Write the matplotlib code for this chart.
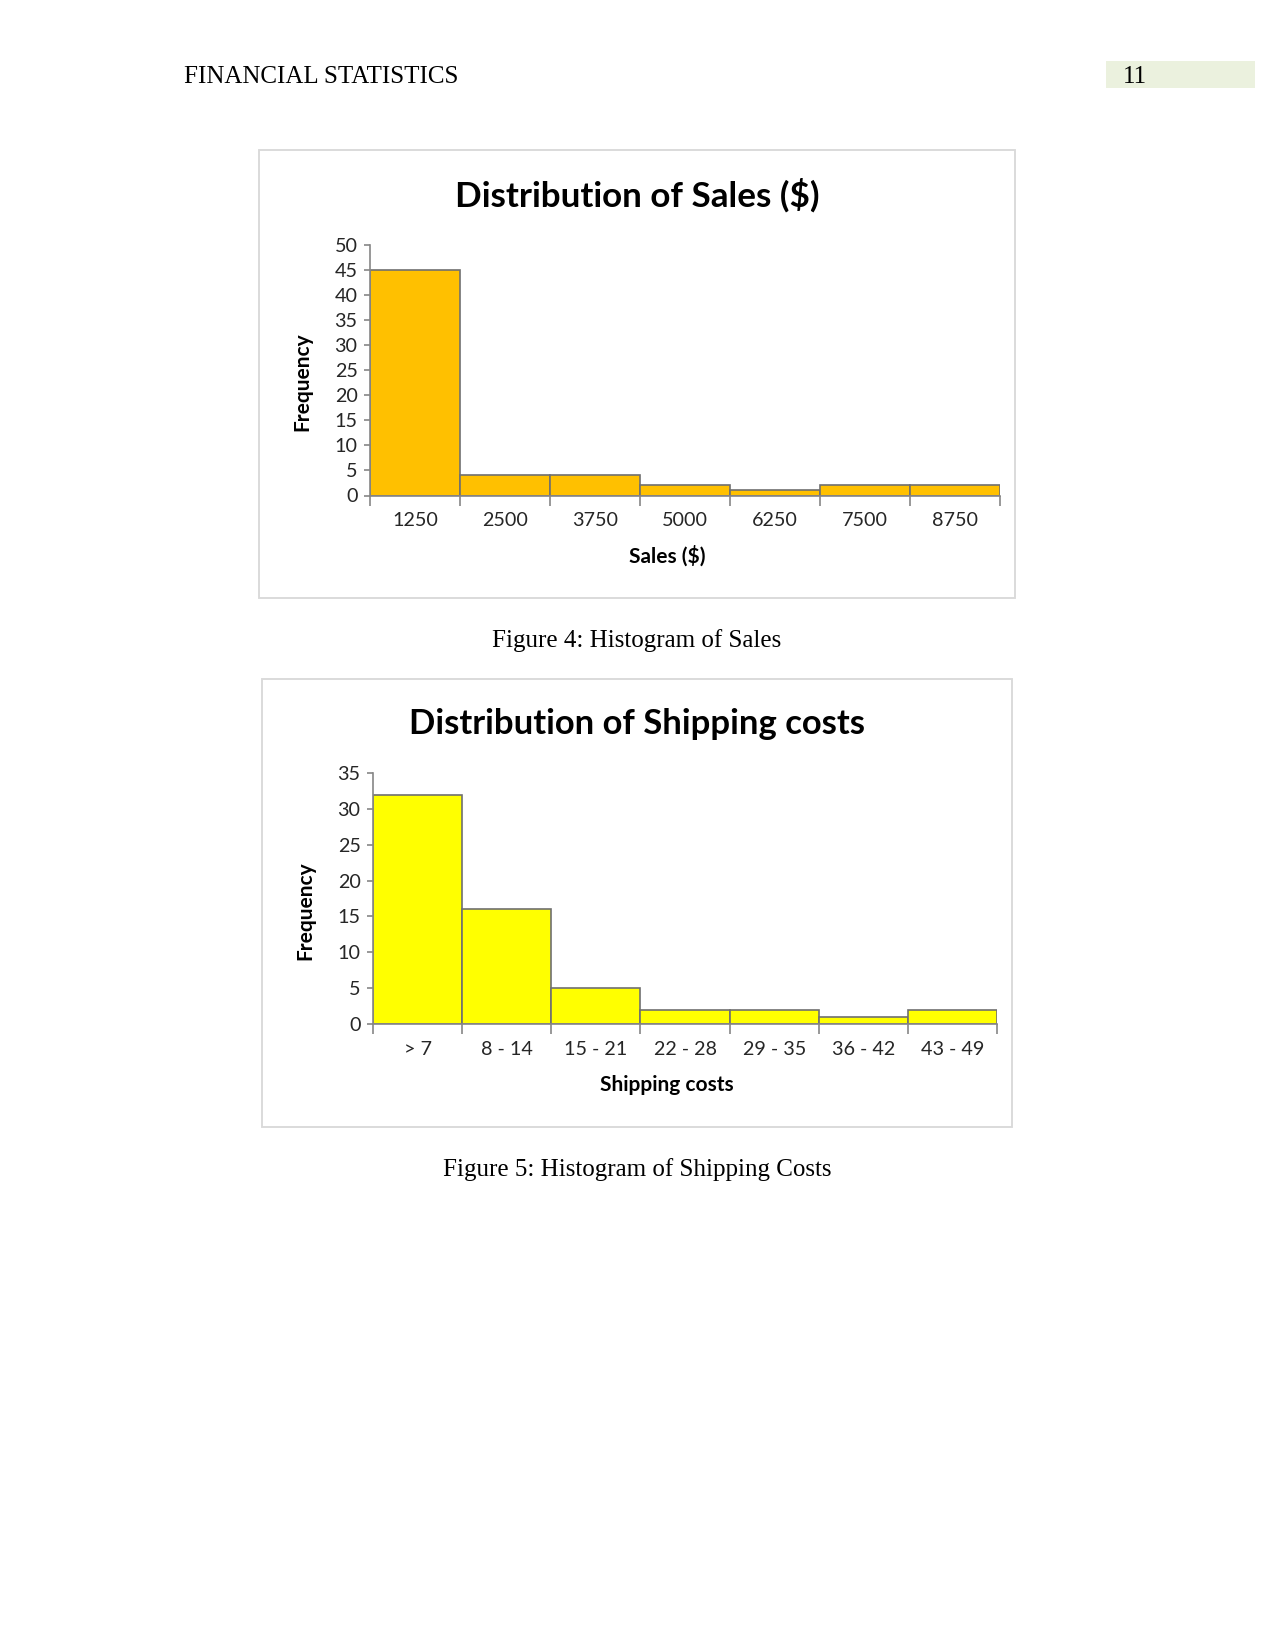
#importing the libraries
import matplotlib.pyplot as plt
from matplotlib.patches import Rectangle

# data
sales_bins = ['1250', '2500', '3750', '5000', '6250', '7500', '8750']
sales_freq = [45, 4, 4, 2, 1, 2, 2]

ship_bins = ['> 7', '8 - 14', '15 - 21', '22 - 28', '29 - 35', '36 - 42', '43 - 49']
ship_freq = [32, 16, 5, 2, 2, 1, 2]

W, H = 1275, 1650


def fx(px):
    return px / W


def fy(py):
    return 1 - py / H


def histogram(fig, rect, bins, freq, color, ymax):
    '''draws one excel style histogram into the given figure rectangle'''
    ax = fig.add_axes(rect)
    pos = list(range(len(freq)))
    ax.bar(pos, freq, width=1, align='edge', color=color,
           edgecolor='#707070', linewidth=0.8)
    ax.set_xlim(0, len(freq))
    ax.set_ylim(0, ymax)
    ax.set_yticks(range(0, ymax + 1, 5))
    ax.set_xticks(range(len(freq) + 1))
    ax.set_xticklabels([])
    ax.set_xticks([p + 0.5 for p in pos], minor=True)
    ax.set_xticklabels(bins, minor=True)
    for s in ['top', 'right']:
        ax.spines[s].set_visible(False)
    for s in ['left', 'bottom']:
        ax.spines[s].set_color('#868686')
        ax.spines[s].set_linewidth(0.8)
    ax.tick_params(axis='y', length=3, width=0.8, color='#868686',
                   labelsize=9.5, labelcolor='#262626', pad=3)
    ax.tick_params(axis='x', which='major', length=5, width=0.8,
                   color='#868686')
    ax.tick_params(axis='x', which='minor', length=0, labelsize=9.5,
                   labelcolor='#262626', pad=8)
    for lab in ax.get_xticklabels(minor=True) + ax.get_yticklabels():
        lab.set_family('Lato')
    return ax


fig = plt.figure(figsize=(8.5, 11), dpi=150)

# page header
fig.text(fx(184), fy(77), 'FINANCIAL STATISTICS', family='Liberation Serif',
         fontsize=12, va='center', ha='left')
fig.patches.append(Rectangle((fx(1106), fy(88)), fx(149), 27 / H,
                             transform=fig.transFigure, facecolor='#EBF1DE',
                             edgecolor='none'))
fig.text(fx(1123), fy(77), '11', family='Liberation Serif', fontsize=12,
         va='center', ha='left')

# chart frames
for x0, y0, x1, y1 in [(259, 150, 1015, 598), (262, 679, 1012, 1127)]:
    fig.patches.append(Rectangle((fx(x0), fy(y1)), fx(x1 - x0), (y1 - y0) / H,
                                 transform=fig.transFigure, facecolor='none',
                                 edgecolor='#D9D9D9', linewidth=0.9))

# sales histogram
histogram(fig, [fx(370), fy(495.5), fx(630), 250.5 / H], sales_bins,
          sales_freq, '#FFC000', 50)
fig.text(fx(637), fy(195), 'Distribution of Sales ($)', family='Lato',
         weight='bold', fontsize=16.8, ha='center', va='center')
fig.text(fx(302), fy(382), 'Frequency', family='Lato', weight='bold',
         fontsize=10, rotation=90, ha='center', va='center')
fig.text(fx(667), fy(556), 'Sales ($)', family='Lato', weight='bold',
         fontsize=10, ha='center', va='center')
fig.text(fx(637), fy(641), 'Figure 4: Histogram of Sales',
         family='Liberation Serif', fontsize=12, ha='center', va='center')

# shipping histogram
histogram(fig, [fx(373), fy(1024), fx(624), 251 / H], ship_bins,
          ship_freq, '#FFFF00', 35)
fig.text(fx(637), fy(724), 'Distribution of Shipping costs', family='Lato',
         weight='bold', fontsize=16.6, ha='center', va='center')
fig.text(fx(305), fy(911), 'Frequency', family='Lato', weight='bold',
         fontsize=10, rotation=90, ha='center', va='center')
fig.text(fx(667), fy(1085), 'Shipping costs', family='Lato', weight='bold',
         fontsize=10, ha='center', va='center')
fig.text(fx(637), fy(1170), 'Figure 5: Histogram of Shipping Costs',
         family='Liberation Serif', fontsize=12, ha='center', va='center')

fig.savefig('out.png', dpi=150)
